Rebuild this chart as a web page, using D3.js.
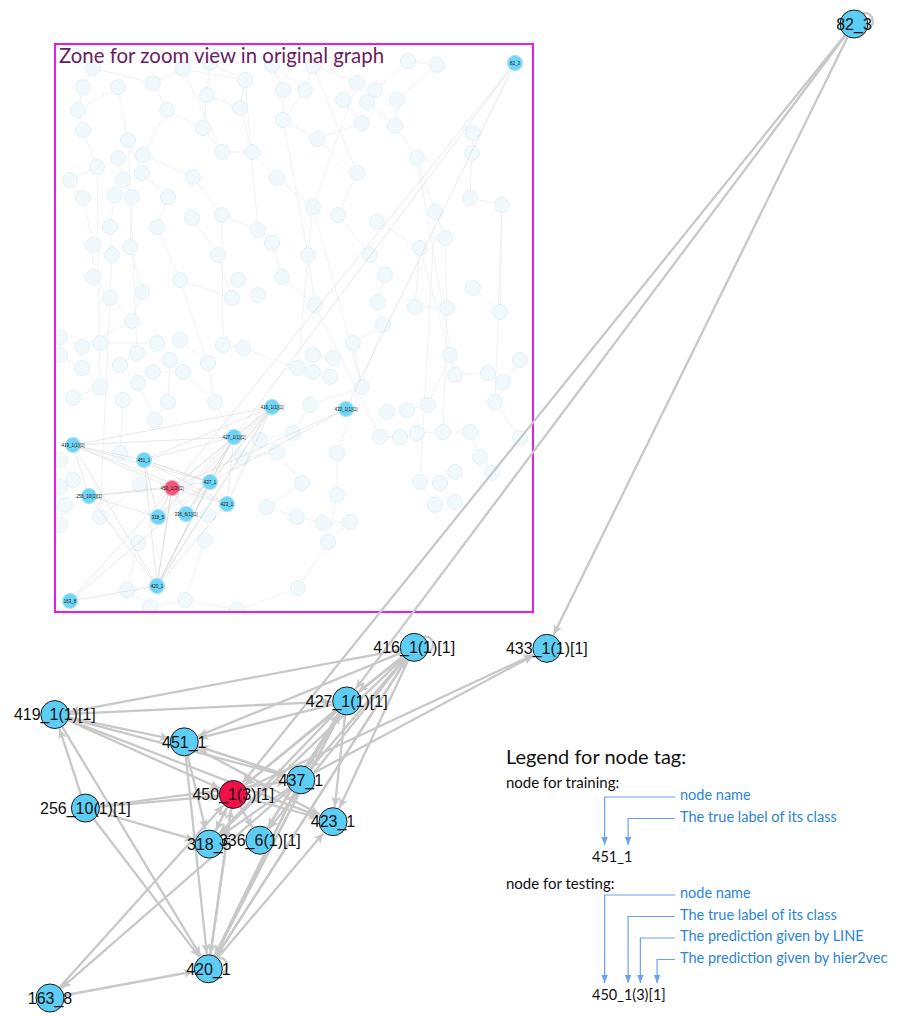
<!DOCTYPE html>
<html>
<head>
<meta charset="utf-8">
<script src="https://cdn.jsdelivr.net/npm/d3@7"></script>
<style>
  body { margin: 0; background: #fff; }
  svg { display: block; }
</style>
</head>
<body>
<svg id="chart" width="906" height="1016"></svg>
<script>
// ---- data ----
// node tags: name_trueLabel(LINE prediction)[hier2vec prediction]
var nodeNames = ['82_3', '416_1(1)[1]', '433_1(1)[1]', '427_1(1)[1]', '419_1(1)[1]', '451_1', '437_1',
  '450_1(3)[1]', '256_10(1)[1]', '423_1', '318_5', '336_6(1)[1]', '420_1', '163_8'];
// layout position in the zoomed graph (0..1)
var nodeX = [1.0, 0.453, 0.618, 0.369, 0.006, 0.167, 0.312, 0.228, 0.044, 0.352, 0.198, 0.261, 0.197, 0.0];
var nodeY = [0.0, 0.640, 0.641, 0.695, 0.709, 0.737, 0.776, 0.791, 0.805, 0.819, 0.842, 0.838, 0.970, 1.0];
// position of the same nodes inside the original graph
var origX = [460, 217, 291, 179, 18, 89, 155, 117, 34, 172, 103, 131, 102, 15];
var origY = [19, 363, 365, 393, 401, 416, 438, 444, 452, 460, 473, 470, 542, 557];
var testNodes = ['450_1(3)[1]'];

var edges = [
  ['82_3', '433_1(1)[1]'], ['82_3', '427_1(1)[1]'], ['82_3', '450_1(3)[1]'],
  ['416_1(1)[1]', '419_1(1)[1]'], ['416_1(1)[1]', '451_1'], ['416_1(1)[1]', '427_1(1)[1]'],
  ['416_1(1)[1]', '437_1'], ['416_1(1)[1]', '450_1(3)[1]'], ['416_1(1)[1]', '423_1'],
  ['416_1(1)[1]', '336_6(1)[1]'], ['416_1(1)[1]', '420_1'], ['416_1(1)[1]', '318_5'],
  ['419_1(1)[1]', '427_1(1)[1]'], ['427_1(1)[1]', '451_1'], ['427_1(1)[1]', '450_1(3)[1]'],
  ['427_1(1)[1]', '437_1'], ['427_1(1)[1]', '423_1'], ['427_1(1)[1]', '318_5'],
  ['427_1(1)[1]', '336_6(1)[1]'], ['427_1(1)[1]', '420_1'],
  ['419_1(1)[1]', '451_1'], ['419_1(1)[1]', '450_1(3)[1]'], ['419_1(1)[1]', '437_1'],
  ['419_1(1)[1]', '423_1'], ['419_1(1)[1]', '420_1'],
  ['256_10(1)[1]', '419_1(1)[1]'], ['256_10(1)[1]', '450_1(3)[1]'], ['256_10(1)[1]', '437_1'],
  ['256_10(1)[1]', '420_1'], ['256_10(1)[1]', '318_5'],
  ['451_1', '437_1'], ['451_1', '423_1'], ['451_1', '420_1'], ['451_1', '318_5'],
  ['450_1(3)[1]', '336_6(1)[1]'], ['450_1(3)[1]', '318_5'], ['450_1(3)[1]', '420_1'],
  ['450_1(3)[1]', '423_1'], ['450_1(3)[1]', '433_1(1)[1]'],
  ['437_1', '451_1'], ['437_1', '318_5'], ['437_1', '420_1'], ['437_1', '433_1(1)[1]'],
  ['437_1', '163_8'], ['420_1', '450_1(3)[1]'], ['318_5', '450_1(3)[1]'],
  ['163_8', '420_1'], ['163_8', '450_1(3)[1]'], ['420_1', '423_1'], ['420_1', '427_1(1)[1]'],
  ['420_1', '437_1'], ['336_6(1)[1]', '427_1(1)[1]'], ['420_1', '416_1(1)[1]']
];
var selfLoops = ['82_3', '416_1(1)[1]', '420_1'];

// background of the original graph (faded nodes and links)
var bgNodes = [[38,24],[128,25],[155,19],[217,21],[258,22],[353,17],[382,21],[98,39],[28,43],[63,43],
  [190,36],[152,51],[228,46],[250,46],[302,39],[320,46],[288,56],[312,58],[342,56],[23,66],
  [112,66],[185,64],[228,76],[307,79],[340,82],[28,86],[73,96],[88,111],[148,84],[167,108],
  [197,108],[262,95],[63,114],[42,123],[87,129],[68,136],[138,133],[222,134],[302,129],[362,114],
  [418,89],[417,109],[15,136],[28,154],[60,151],[77,153],[113,153],[167,171],[137,174],[258,163],
  [283,171],[322,178],[380,168],[415,154],[447,161],[55,183],[102,183],[203,186],[217,199],[38,201],
  [75,203],[57,211],[163,211],[253,211],[315,211],[365,204],[390,194],[38,233],[87,248],[55,254],
  [125,236],[183,236],[227,233],[177,254],[203,251],[260,261],[323,258],[330,231],[360,263],[392,264],
  [418,244],[445,268],[77,277],[328,281],[5,293],[27,303],[45,299],[82,309],[102,299],[125,296],
  [168,301],[188,304],[5,311],[27,324],[65,321],[98,328],[115,316],[128,328],[153,319],[45,343],
  [83,339],[18,354],[68,356],[113,358],[160,358],[100,376],[243,324],[258,311],[278,314],[258,328],
  [275,333],[298,299],[307,343],[255,361],[332,368],[352,366],[373,361],[395,311],[400,331],[433,329],
  [448,338],[465,316],[440,358],[238,389],[205,396],[325,393],[345,393],[362,389],[388,388],[415,388],
  [465,394],[65,409],[5,416],[187,414],[222,408],[282,409],[425,413],[400,428],[437,429],[18,436],
  [85,441],[247,439],[365,438],[385,439],[5,443],[10,461],[45,473],[5,481],[153,471],[212,463],
  [242,473],[268,479],[295,478],[380,461],[400,458],[282,451],[83,499],[150,496],[273,498],[72,546],
  [95,563],[130,556],[182,566],[243,544]];
var bgEdges = [[0,7],[0,8],[1,7],[1,10],[2,10],[2,11],[3,12],[3,13],[4,13],[4,14],[5,6],[5,15],[6,18],
  [7,20],[8,19],[9,19],[9,26],[10,21],[11,21],[11,28],[12,22],[13,22],[14,16],[15,17],[16,23],[17,24],
  [18,24],[19,25],[20,28],[20,27],[21,30],[22,31],[23,31],[24,39],[25,33],[26,34],[27,36],[28,29],
  [29,30],[30,37],[31,38],[32,35],[33,42],[34,46],[35,45],[36,47],[37,49],[38,50],[39,52],[40,41],
  [41,53],[42,43],[43,59],[44,55],[45,60],[46,56],[47,57],[48,62],[49,63],[50,64],[51,65],[52,66],
  [53,54],[54,81],[55,61],[56,70],[57,58],[58,72],[59,67],[60,68],[61,69],[62,73],[63,75],[64,77],
  [65,78],[66,79],[67,82],[68,82],[70,73],[71,74],[72,75],[76,83],[77,76],[78,79],[80,81],[82,85],
  [83,111],[84,85],[86,88],[87,94],[88,96],[89,98],[90,91],[91,106],[92,93],[93,99],[94,100],[95,97],
  [96,103],[97,104],[98,104],[99,101],[100,105],[102,131],[103,105],[104,133],[106,107],[107,108],
  [109,110],[111,112],[112,113],[113,123],[114,115],[115,116],[116,117],[117,118],[118,119],[119,120],
  [120,121],[121,122],[122,130],[123,124],[124,133],[125,126],[126,127],[127,128],[128,129],[129,136],
  [131,140],[132,139],[133,134],[134,141],[135,155],[136,138],[137,143],[139,144],[140,146],[141,149],
  [142,153],[143,154],[145,147],[146,156],[148,157],[149,150],[150,151],[151,152],[152,158],[155,158],
  [156,159],[157,161],[158,163],[159,160],[160,161],[161,162],[162,163],
  [10,57],[14,49],[22,63],[26,87],[33,99],[47,90],[49,112],[63,106],[65,117],[75,125],[1,29],[4,38],
  [39,118],[54,122],[79,128],[83,135],[69,146],[70,98],[52,142]];

// legend
var insetTitle = 'Zone for zoom view in original graph';
var legendTitle = 'Legend for node tag:';
var trainHeading = 'node for training:';
var trainTag = '451_1';
var trainParts = ['node name', 'The true label of its class'];
var trainChars = [[0, 2], [4, 4]];
var testHeading = 'node for testing:';
var testTag = '450_1(3)[1]';
var testParts = ['node name', 'The true label of its class', 'The prediction given by LINE', 'The prediction given by hier2vec'];
var testChars = [[0, 2], [4, 4], [6, 6], [9, 9]];

// ---- drawing ----
var svg = d3.select('#chart');
var defs = svg.append('defs');

var edgeColor = '#c8c8c8',
    blueNode = '#5ccdf5',
    redNode = '#f2104a',
    legendBlue = '#2a84dc',
    legendLine = '#6aa2f2',
    r = 14;

defs.append('marker')
  .attr('id', 'arrow')
  .attr('viewBox', '0 -5 10 10')
  .attr('refX', 10).attr('refY', 0)
  .attr('markerWidth', 10).attr('markerHeight', 10)
  .attr('markerUnits', 'userSpaceOnUse')
  .attr('orient', 'auto')
  .append('path')
  .attr('d', 'M0,-4.5L10,0L0,4.5L2.5,0Z')
  .attr('fill', edgeColor);

defs.append('marker')
  .attr('id', 'legendArrow')
  .attr('viewBox', '0 -5 10 10')
  .attr('refX', 10).attr('refY', 0)
  .attr('markerWidth', 8).attr('markerHeight', 8)
  .attr('markerUnits', 'userSpaceOnUse')
  .attr('orient', 'auto')
  .append('path')
  .attr('d', 'M0,-4L10,0L0,4Z')
  .attr('fill', legendLine);

// ---- inset: original graph ----
var ix = d3.scaleLinear().domain([0, 478]).range([55, 533]),
    iy = d3.scaleLinear().domain([0, 568]).range([44, 612]);

var inset = svg.append('g').attr('class', 'inset');
inset.append('clipPath').attr('id', 'insetClip')
  .append('rect').attr('x', ix(0)).attr('y', iy(0))
  .attr('width', ix(478) - ix(0)).attr('height', iy(568) - iy(0));

var insetBody = inset.append('g').attr('clip-path', 'url(#insetClip)');

insetBody.append('g').selectAll('line')
  .data(bgEdges)
  .join('line')
  .attr('x1', function (d) { return ix(bgNodes[d[0]][0]); })
  .attr('y1', function (d) { return iy(bgNodes[d[0]][1]); })
  .attr('x2', function (d) { return ix(bgNodes[d[1]][0]); })
  .attr('y2', function (d) { return iy(bgNodes[d[1]][1]); })
  .attr('stroke', '#ebebeb')
  .attr('stroke-width', 0.7);

insetBody.append('g').selectAll('circle')
  .data(bgNodes)
  .join('circle')
  .attr('cx', function (d) { return ix(d[0]); })
  .attr('cy', function (d) { return iy(d[1]); })
  .attr('r', 7.5)
  .attr('fill', '#f1f9fc')
  .attr('stroke', '#e4f2f8')
  .attr('stroke-width', 1);

var origIdx = {};
nodeNames.forEach(function (n, i) { origIdx[n] = i; });

insetBody.append('g').selectAll('line')
  .data(edges)
  .join('line')
  .attr('x1', function (d) { return ix(origX[origIdx[d[0]]]); })
  .attr('y1', function (d) { return iy(origY[origIdx[d[0]]]); })
  .attr('x2', function (d) { return ix(origX[origIdx[d[1]]]); })
  .attr('y2', function (d) { return iy(origY[origIdx[d[1]]]); })
  .attr('stroke', '#d8d8d8')
  .attr('stroke-width', 0.6);

var insetNodes = insetBody.append('g').selectAll('g')
  .data(nodeNames)
  .join('g')
  .attr('transform', function (d, i) { return 'translate(' + ix(origX[i]) + ',' + iy(origY[i]) + ')'; });

insetNodes.append('circle')
  .attr('r', 7.5)
  .attr('fill', function (d) { return testNodes.indexOf(d) >= 0 ? '#f0577c' : '#72d4f5'; })
  .attr('stroke', function (d) { return testNodes.indexOf(d) >= 0 ? '#f7a3b8' : '#a6e3f7'; })
  .attr('stroke-width', 1.2);

insetNodes.append('text')
  .text(function (d) { return d; })
  .attr('text-anchor', 'middle')
  .attr('dy', '0.35em')
  .style('font-family', '"Liberation Sans", Arial, sans-serif')
  .style('font-size', '4.5px')
  .attr('fill', '#111');

inset.append('rect')
  .attr('x', ix(0)).attr('y', iy(0))
  .attr('width', ix(478) - ix(0)).attr('height', iy(568) - iy(0))
  .attr('fill', 'none')
  .attr('stroke', '#e41ee4')
  .attr('stroke-width', 2);

inset.append('text')
  .attr('x', ix(4)).attr('y', iy(19))
  .text(insetTitle)
  .style('font-family', 'Lato, "Open Sans", sans-serif')
  .style('font-size', '20.4px')
  .attr('fill', '#6a1d62');

// ---- main zoomed graph ----
var x = d3.scaleLinear().domain([0, 1]).range([50, 854]),
    y = d3.scaleLinear().domain([0, 1]).range([24, 998]);

var pos = {};
nodeNames.forEach(function (n, i) { pos[n] = [x(nodeX[i]), y(nodeY[i])]; });

var main = svg.append('g').attr('class', 'main');

// self loops
main.append('g').selectAll('circle')
  .data(selfLoops)
  .join('circle')
  .attr('cx', function (d) { return pos[d][0] + 11; })
  .attr('cy', function (d) { return pos[d][1] - 3; })
  .attr('r', 8)
  .attr('fill', 'none')
  .attr('stroke', edgeColor)
  .attr('stroke-width', 2.3);

main.append('g').selectAll('line')
  .data(edges)
  .join('line')
  .each(function (d) {
    var s = pos[d[0]], t = pos[d[1]];
    var dx = t[0] - s[0], dy = t[1] - s[1], len = Math.sqrt(dx * dx + dy * dy);
    d3.select(this)
      .attr('x1', s[0]).attr('y1', s[1])
      .attr('x2', t[0] - dx / len * (r + 1))
      .attr('y2', t[1] - dy / len * (r + 1));
  })
  .attr('stroke', edgeColor)
  .attr('stroke-width', 2.3)
  .attr('marker-end', 'url(#arrow)');

main.append('g').selectAll('circle')
  .data(nodeNames)
  .join('circle')
  .attr('cx', function (d) { return pos[d][0]; })
  .attr('cy', function (d) { return pos[d][1]; })
  .attr('r', r)
  .attr('fill', function (d) { return testNodes.indexOf(d) >= 0 ? redNode : blueNode; })
  .attr('stroke', '#1a1a1a')
  .attr('stroke-width', 1);

main.append('g').selectAll('text')
  .data(nodeNames)
  .join('text')
  .attr('x', function (d) { return pos[d][0]; })
  .attr('y', function (d) { return pos[d][1]; })
  .attr('dy', '0.36em')
  .attr('text-anchor', 'middle')
  .text(function (d) { return d; })
  .style('font-family', '"Liberation Sans", Arial, sans-serif')
  .style('font-size', '16px')
  .attr('fill', '#111');

// ---- legend ----
var legend = svg.append('g').attr('class', 'legend');
var legendFont = 'Lato, "Open Sans", sans-serif';

legend.append('text')
  .attr('x', 506).attr('y', 764)
  .text(legendTitle)
  .style('font-family', legendFont)
  .style('font-size', '20px')
  .attr('fill', '#111');

function drawTagLegend(heading, headingY, parts, tag, chars, firstRowY, rowStep, tagY) {
  legend.append('text')
    .attr('x', 506).attr('y', headingY)
    .text(heading)
    .style('font-family', legendFont)
    .style('font-size', '15px')
    .attr('fill', '#111');

  var tagText = legend.append('text')
    .attr('x', 592).attr('y', tagY)
    .text(tag)
    .style('font-family', legendFont)
    .style('font-size', '14.5px')
    .attr('fill', '#111');
  var node = tagText.node();

  parts.forEach(function (p, i) {
    var ty = firstRowY + i * rowStep;
    legend.append('text')
      .attr('x', 680).attr('y', ty)
      .text(p)
      .style('font-family', legendFont)
      .style('font-size', '14.5px')
      .attr('fill', legendBlue);

    var a = node.getExtentOfChar(chars[i][0]), b = node.getExtentOfChar(chars[i][1]);
    var cx = (a.x + b.x + b.width) / 2;
    var ly = ty - 3;
    legend.append('path')
      .attr('d', 'M675,' + ly + 'H' + cx + 'V' + (tagY - 17))
      .attr('fill', 'none')
      .attr('stroke', legendLine)
      .attr('stroke-width', 1.2)
      .attr('marker-end', 'url(#legendArrow)');
  });
}

drawTagLegend(trainHeading, 788, trainParts, trainTag, trainChars, 800, 21.5, 862);
drawTagLegend(testHeading, 889, testParts, testTag, testChars, 898, 21.5, 1000);
</script>
</body>
</html>
